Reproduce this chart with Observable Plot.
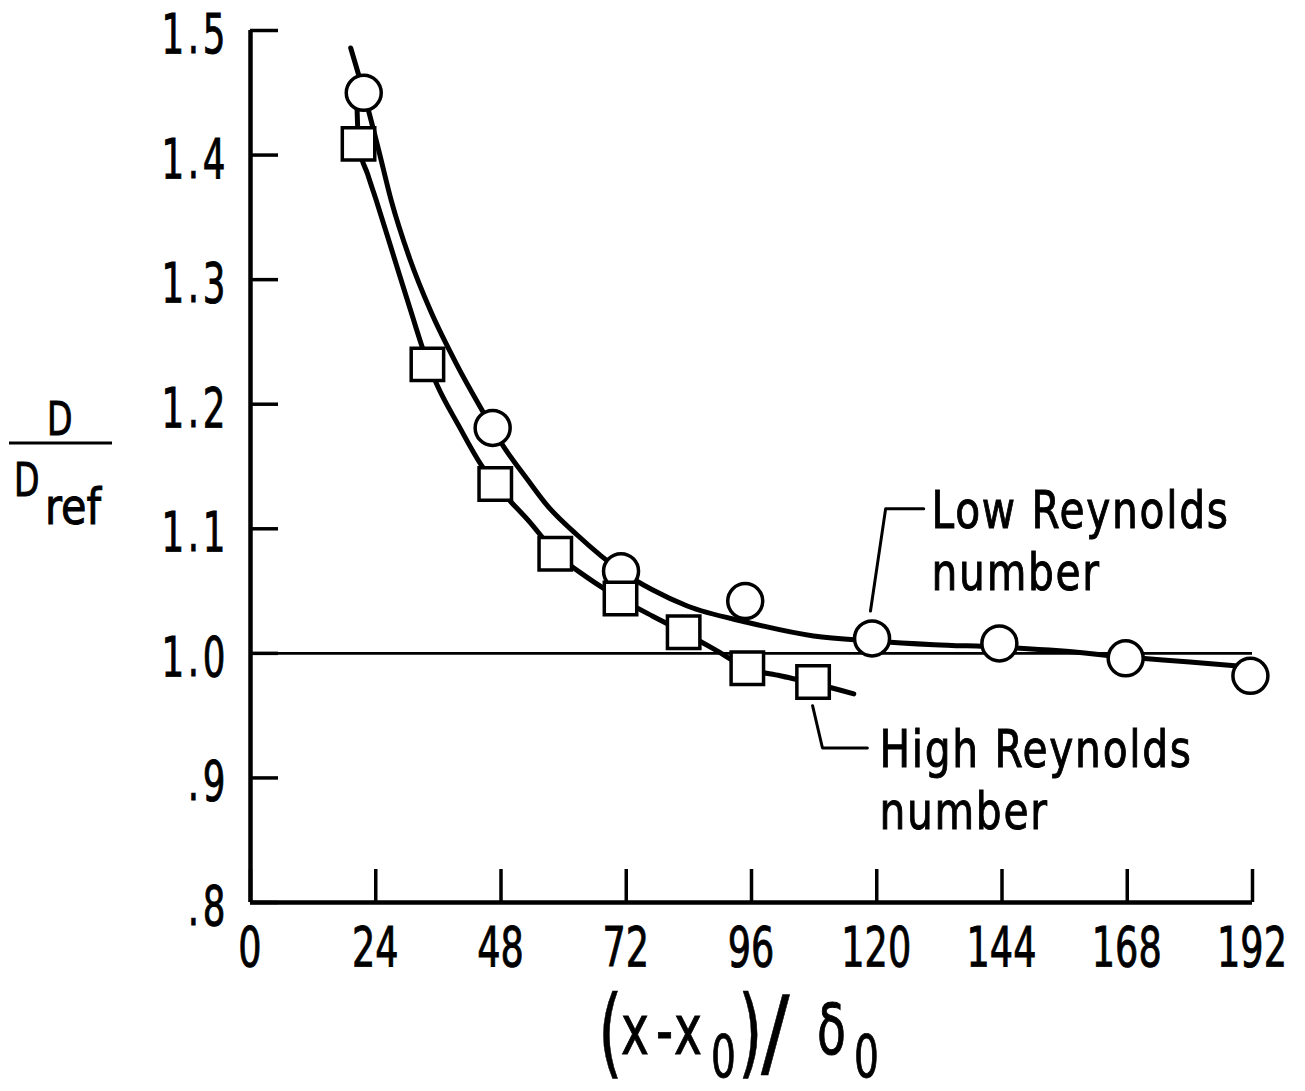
<!DOCTYPE html>
<html>
<head>
<meta charset="utf-8">
<script src="https://cdn.jsdelivr.net/npm/d3@7"></script>
<script src="https://cdn.jsdelivr.net/npm/@observablehq/plot@0.6"></script>
<style>
  body { margin: 0; background: #fff; }
  #chart svg { display: block; }
</style>
</head>
<body>
<div id="chart"></div>
<script>
// ---- Data ----
const xTicks = [0, 24, 48, 72, 96, 120, 144, 168, 192];
const xTickLabels = ["0", "24", "48", "72", "96", "120", "144", "168", "192"];
const yTicks = [0.8, 0.9, 1.0, 1.1, 1.2, 1.3, 1.4, 1.5];
const yTickLabels = [".8", ".9", "1.0", "1.1", "1.2", "1.3", "1.4", "1.5"];

// Low Reynolds number: measured points (circles)
const lowX = [21.7, 46.4, 71.0, 94.8, 119.1, 143.5, 167.7, 191.6];
const lowY = [1.450, 1.181, 1.066, 1.042, 1.012, 1.008, 0.996, 0.982];
// High Reynolds number: measured points (squares)
const highX = [20.7, 33.9, 46.9, 58.4, 70.9, 83.0, 95.2, 107.8];
const highY = [1.409, 1.232, 1.136, 1.080, 1.044, 1.017, 0.988, 0.977];

// Faired curves
const lowCurveX = [19.2, 21.7, 24.5, 27.0, 30.5, 34.5, 39.5, 44.4, 48.5, 53.0, 57.0, 62.6, 71.0, 77.0, 83.7, 95.1, 107.9, 119.1, 131.0, 143.5, 155.0, 167.7, 180.0, 191.5];
const lowCurveY = [1.486, 1.450, 1.405, 1.363, 1.317, 1.275, 1.232, 1.195, 1.166, 1.140, 1.118, 1.095, 1.066, 1.051, 1.038, 1.025, 1.014, 1.010, 1.007, 1.005, 1.002, 0.997, 0.993, 0.989];
const highCurveX = [20.4, 20.7, 22.5, 24.3, 27.5, 30.7, 33.9, 35.8, 40.0, 44.1, 46.9, 53.6, 58.4, 64.5, 70.9, 77.0, 83.0, 89.0, 95.2, 101.5, 107.9, 115.6];
const highCurveY = [1.440, 1.409, 1.384, 1.361, 1.318, 1.275, 1.234, 1.215, 1.182, 1.152, 1.136, 1.105, 1.081, 1.061, 1.044, 1.030, 1.017, 1.003, 0.988, 0.982, 0.976, 0.9675];

const refValue = 1.0;

// Annotation leaders and labels (data coordinates; label y = first baseline)
const lowLeaderX = [118.8, 121.7, 129.0];
const lowLeaderY = [1.034, 1.116, 1.116];
const highLeaderX = [107.7, 109.6, 118.2];
const highLeaderY = [0.958, 0.924, 0.924];
const labelLines = [["Low Reynolds", "number"], ["High Reynolds", "number"]];
const labelX = [130.6, 120.6];
const labelY = [1.100, 0.908];

// ---- Build tables ----
const zip = (xs, ys) => xs.map((x, i) => ({x, y: ys[i]}));
const low = zip(lowX, lowY);
const high = zip(highX, highY);
const lowCurve = zip(lowCurveX, lowCurveY);
const highCurve = zip(highCurveX, highCurveY);
const lowLeader = zip(lowLeaderX, lowLeaderY);
const highLeader = zip(highLeaderX, highLeaderY);

const W = 1305, H = 1091;
const mL = 250, mR = 53, mT = 30, mB = 189;
const frameW = W - mL - mR, frameH = H - mT - mB;
const font = "'DejaVu Sans Condensed', 'DejaVu Sans', sans-serif";

const plot = Plot.plot({
  width: W, height: H,
  marginLeft: mL, marginRight: mR, marginTop: mT, marginBottom: mB,
  x: {domain: [0, 192], axis: null},
  y: {domain: [0.8, 1.5], axis: null},
  style: {fontFamily: font, background: "white", color: "black", overflow: "visible"},
  marks: [
    Plot.ruleY([refValue], {x1: 0, x2: 192, stroke: "black", strokeWidth: 2.8}),
    Plot.line(lowCurve, {x: "x", y: "y", curve: "monotone-x", stroke: "black", strokeWidth: 5}),
    Plot.line(highCurve, {x: "x", y: "y", curve: "monotone-x", stroke: "black", strokeWidth: 5}),
    Plot.line(lowLeader, {x: "x", y: "y", stroke: "black", strokeWidth: 3}),
    Plot.line(highLeader, {x: "x", y: "y", stroke: "black", strokeWidth: 3}),
    // ticks (pointing inward)
    Plot.ruleX(xTicks, {insetTop: frameH - 33, stroke: "black", strokeWidth: 3.5}),
    Plot.ruleY(yTicks, {insetRight: frameW - 28, stroke: "black", strokeWidth: 3.5}),
    // axis lines
    Plot.ruleX([0], {stroke: "black", strokeWidth: 4.5}),
    Plot.ruleY([0.8], {stroke: "black", strokeWidth: 4.5}),
    // data markers
    Plot.dot(low, {x: "x", y: "y", r: 17.5, fill: "white", stroke: "black", strokeWidth: 3.5}),
    Plot.dot(high, {x: "x", y: "y", symbol: "square", r: 18.3, fill: "white", stroke: "black", strokeWidth: 3.5})
  ]
});

document.getElementById("chart").appendChild(plot);

// Scales of the plot, used to position the lettering
const xs = plot.scale("x"), ys = plot.scale("y");
const X = xs.apply ? (v) => xs.apply(v) : d3.scaleLinear(xs.domain, xs.range);
const Y = ys.apply ? (v) => ys.apply(v) : d3.scaleLinear(ys.domain, ys.range);

const svg = d3.select(plot);
const g = svg.append("g")
  .attr("font-family", font)
  .attr("fill", "black")
  .attr("stroke", "black")
  .attr("stroke-width", 0.9)
  .attr("text-anchor", "start");

const put = (str, x, y, size, sx = 1, sy = 1, anchor = "start", spacing = null) => {
  const t = g.append("text")
    .attr("transform", `translate(${x},${y}) scale(${sx},${sy})`)
    .attr("font-size", size)
    .attr("text-anchor", anchor)
    .text(str);
  if (spacing != null) t.attr("letter-spacing", spacing);
  return t;
};

// Tick labels (condensed lettering)
const yBottom = Y(0.8);
xTicks.forEach((v, i) => put(xTickLabels[i], X(v), yBottom + 64, 55, 0.74, 1, "middle"));
yTicks.forEach((v, i) => put(yTickLabels[i], 229, Y(v) + 23, 55, 0.72, 1, "end", 5));

// Curve labels
labelLines.forEach((lines, i) => {
  lines.forEach((s, j) => put(s, X(labelX[i]), Y(labelY[i]) + j * 62, 52, 0.87, 1, "start", 2));
});

// y title: D / D_ref
put("D", 47, 435, 46, 0.8);
g.append("line").attr("x1", 9).attr("x2", 112).attr("y1", 443).attr("y2", 443)
  .attr("stroke", "black").attr("stroke-width", 3);
put("D", 14, 496, 46, 0.8);
put("ref", 45, 524, 50, 0.92);

// x title: (x - x0)/δ0
put("(", 598, 1066, 70, 1, 1.4).attr("stroke-width", 0.4);
put("x", 621, 1054, 70, 0.75);
put("-", 656, 1054, 70, 0.75);
put("x", 674, 1054, 70, 0.75);
put("0", 711, 1077, 58, 0.75);
put(")", 738, 1066, 70, 1, 1.4).attr("stroke-width", 0.4);
put("/", 761, 1066, 70, 1.35, 1.4).attr("stroke-width", 0.4);
put("δ", 817, 1054, 70, 0.75);
put("0", 854, 1077, 58, 0.75);
</script>
</body>
</html>
